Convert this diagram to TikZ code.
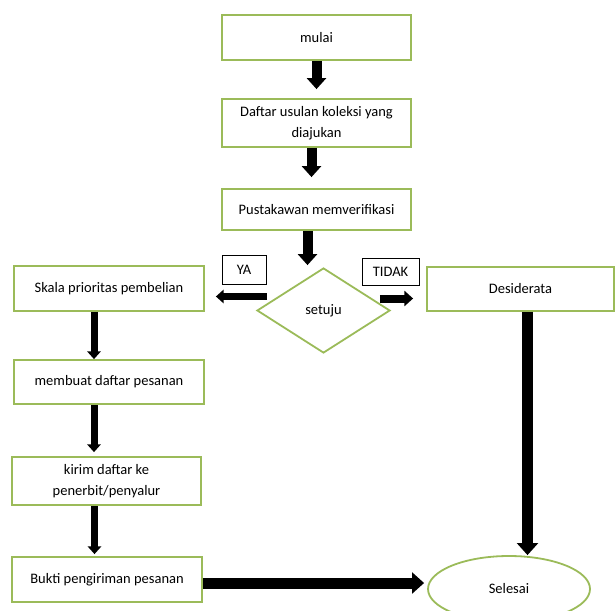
\documentclass[tikz,border=0pt]{standalone}
\usepackage{fontspec}
\setmainfont{Carlito}
\usetikzlibrary{shapes.geometric, arrows.meta}
\definecolor{boxgreen}{HTML}{9BBB59}

\begin{document}
\begin{tikzpicture}[
    x=1pt, y=-1pt,
    font=\fontsize{14.5}{21.5}\selectfont,
    step_box/.style={rectangle, draw=boxgreen, line width=1.8pt, minimum width=189pt, minimum height=45pt, align=center, inner sep=2pt},
    label_box/.style={rectangle, draw=black, line width=0.8pt, inner sep=0pt},
    flow/.style={draw=black, line width=7pt, -{Triangle[length=0pt 1.1, width=0pt 1.9]}}
]
    \useasboundingbox (0,0) rectangle (615,610);
    \node[step_box] (mulai) at (316.5,37.5) {mulai};
    \node[step_box, minimum height=48pt] (usulan) at (316.5,123) {Daftar usulan koleksi yang\\diajukan};
    \node[step_box, minimum height=41pt] (verif) at (316.5,209.5) {Pustakawan memverifikasi};
    \node[diamond, draw=boxgreen, line width=1.8pt, minimum width=133pt, minimum height=85pt, inner sep=0pt] (setuju) at (323.5,310.5) {setuju};
    \node[label_box, minimum width=44pt, minimum height=29pt] (ya) at (244,269.5) {YA};
    \node[label_box, minimum width=57pt, minimum height=27pt] (tidak) at (390.5,271.5) {TIDAK};
    \node[step_box, minimum width=190pt] (skala) at (109,288.5) {Skala prioritas pembelian};
    \node[step_box, minimum width=187pt, minimum height=44pt] (desid) at (520.5,289) {Desiderata};
    \node[step_box, minimum width=190pt, minimum height=44pt] (pesanan) at (109,382) {membuat daftar pesanan};
    \node[step_box, minimum height=48pt] (kirim) at (106.5,481) {kirim daftar ke\\penerbit/penyalur};
    \node[step_box, minimum width=190pt] (bukti) at (107,579.5) {Bukti pengiriman pesanan};
    \node[ellipse, draw=boxgreen, line width=1.8pt, minimum width=162pt, minimum height=66pt] (selesai) at (509,589) {Selesai};

    \draw [flow, line width=10pt, shorten >=9pt] (mulai.south) -- (mulai.south |- usulan.north);
    \draw [flow, line width=10pt, shorten >=11pt] ([xshift=-5pt]usulan.south) -- ([xshift=-5pt]usulan.south |- verif.north);
    \draw [flow, line width=10pt, shorten >=2pt] ([xshift=-9pt]verif.south) -- ([xshift=-9pt]verif.south |- setuju.north);
    \draw [flow] ([xshift=11pt, yshift=14pt]setuju.west) -- ([xshift=11pt, yshift=14pt]setuju.west -| skala.east);
    \draw [flow, line width=8pt, shorten >=2pt] ([xshift=-11pt, yshift=12pt]setuju.east) -- ([xshift=-11pt, yshift=12pt]setuju.east -| desid.west);
    \draw [flow] ([xshift=-15pt]skala.south) -- ([xshift=-15pt]skala.south |- pesanan.north);
    \draw [flow, shorten >=4pt] ([xshift=-15pt]pesanan.south) -- ([xshift=-15pt]pesanan.south |- kirim.north);
    \draw [flow, shorten >=2pt] ([xshift=-12pt]kirim.south) -- ([xshift=-12pt]kirim.south |- bukti.north);
    \draw [flow, line width=11pt] ([xshift=7pt]desid.south) -- ([xshift=7pt]desid.south |- selesai.north);
    \draw [flow, line width=11pt, shorten >=3pt] ([yshift=-3.5pt]bukti.east) -- ([yshift=-3.5pt]bukti.east -| selesai.west);
\end{tikzpicture}
\end{document}
